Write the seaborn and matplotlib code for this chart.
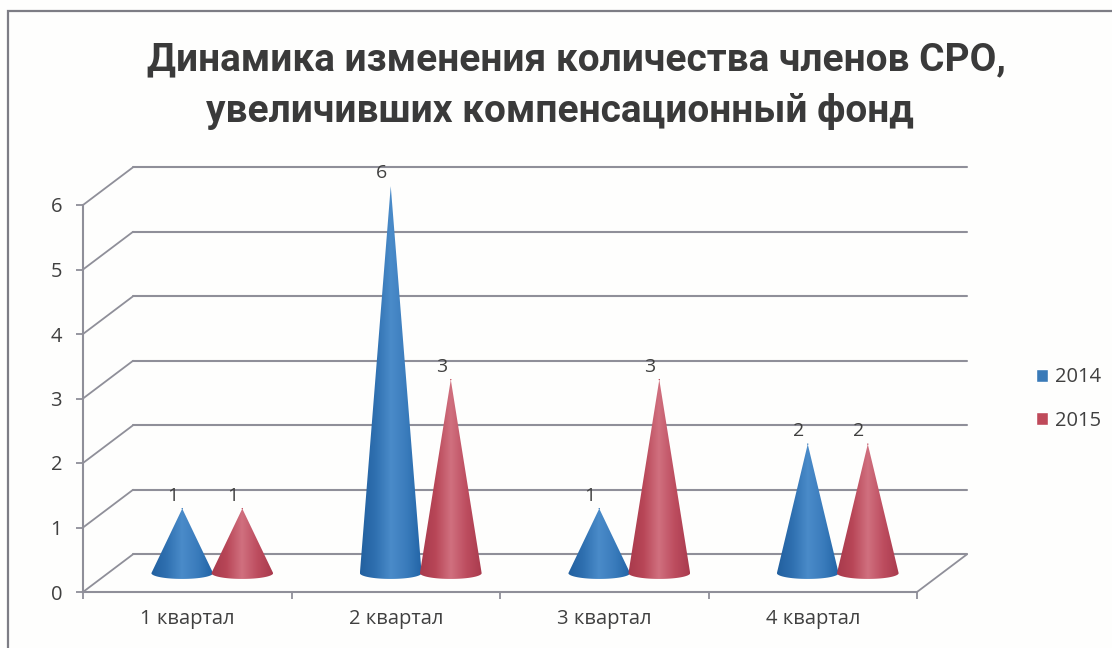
import numpy as np
import pandas as pd
import matplotlib
matplotlib.use('Agg')
import matplotlib.pyplot as plt
from matplotlib.colors import LinearSegmentedColormap
from matplotlib.patches import Patch, Polygon, Rectangle
import seaborn as sns

quarters = ['1 квартал', '2 квартал', '3 квартал', '4 квартал']
values_2014 = [1, 6, 1, 2]
values_2015 = [1, 3, 3, 2]
y_ticks = [0, 1, 2, 3, 4, 5, 6]
title_top = 'Динамика изменения количества членов СРО,'
title_bottom = 'увеличивших компенсационный фонд'

BLUE = '#3a7ab8'
RED = '#bf4a5a'
GRID = '#8f8f99'
TEXT = '#404040'
FONT = 'Open Sans'
# floor depth, in data units
DEPTH_X = 0.24
DEPTH_Y = 0.585
HALF_W = 0.148
ELL_H = 0.09
OFFSET = 0.144

sns.set_theme(style='white')
plt.rcParams['font.family'] = [FONT, 'DejaVu Sans']


def draw_cone(fig, ax, x, value, stops):
    """Draws one cone standing on the middle of the floor."""
    x0 = x + DEPTH_X / 2
    base = DEPTH_Y / 2
    t = np.linspace(np.pi, 2 * np.pi, 40)
    rim = np.column_stack([x0 + HALF_W * np.cos(t), base + ELL_H * np.sin(t)])
    outline = np.vstack([[x0, base + value], rim])
    cmap = LinearSegmentedColormap.from_list('cone', stops)
    shade = np.linspace(0, 1, 256).reshape(1, -1)
    im = ax.imshow(shade, cmap=cmap, aspect='auto', zorder=3,
                   extent=[x0 - HALF_W, x0 + HALF_W, base - ELL_H, base + value])
    im.set_clip_box(fig.bbox)
    im.set_clip_path(Polygon(outline, closed=True, transform=ax.transData))


def main():
    fig = plt.figure(figsize=(11.12, 6.48), dpi=100, facecolor='#fefefd')
    fig.add_artist(Rectangle((8 / 1112, -0.1), 1.2, 0.1 + (648 - 11) / 648,
                             transform=fig.transFigure, fill=False,
                             edgecolor='#7d7d85', linewidth=1.6))
    ax = fig.add_axes([83 / 1112, 56 / 648, 834 / 1112, 387 / 648])
    ax.patch.set_alpha(0)

    data = pd.DataFrame({
        'x': np.concatenate([np.arange(4) + 0.5 - OFFSET, np.arange(4) + 0.5 + OFFSET]) + DEPTH_X / 2,
        'y': np.array(values_2014 + values_2015) + DEPTH_Y / 2,
        'label': values_2014 + values_2015,
        'year': ['2014'] * 4 + ['2015'] * 4,
    })
    sns.scatterplot(ax=ax, data=data, x='x', y='y', hue='year',
                    palette=[BLUE, RED], s=1, linewidth=0, legend=False, zorder=1)

    # back wall gridlines and the slanted floor/wall joins
    for v in y_ticks:
        ax.plot([DEPTH_X, 4 + DEPTH_X], [v + DEPTH_Y, v + DEPTH_Y], color=GRID,
                lw=1.5, clip_on=False, zorder=1)
        ax.plot([0, DEPTH_X], [v, v + DEPTH_Y], color=GRID, lw=1.3, clip_on=False, zorder=1)
    ax.plot([4, 4 + DEPTH_X], [0, DEPTH_Y], color=GRID, lw=1.3, clip_on=False, zorder=1)

    blue_stops = ['#22609f', '#2f70b0', '#4a8bc9', '#3a7cbc', '#2264a6']
    red_stops = ['#a83a4c', '#b84657', '#d0707f', '#bd4d5f', '#a93a4d']
    for i in range(4):
        draw_cone(fig, ax, i + 0.5 - OFFSET, values_2014[i], blue_stops)
        draw_cone(fig, ax, i + 0.5 + OFFSET, values_2015[i], red_stops)

    for row in data.itertuples():
        ax.text(row.x - 0.045, row.y + 0.2, str(row.label), ha='center', va='center',
                fontsize=14, color=TEXT, zorder=4, clip_on=False)

    ax.set_xlim(0, 4)
    ax.set_ylim(0, 6)
    ax.set_xticks(np.arange(5))
    ax.set_xticklabels([])
    ax.set_xticks(np.arange(4) + 0.5, labels=quarters, minor=True)
    ax.set_yticks(y_ticks)
    ax.set_xlabel('')
    ax.set_ylabel('')
    ax.tick_params(axis='x', which='major', length=5, width=1.3, color=GRID, bottom=True)
    ax.tick_params(axis='x', which='minor', length=0, pad=12, labelsize=14.5, labelcolor=TEXT)
    ax.tick_params(axis='y', length=5, width=1.3, color=GRID, left=True, pad=10,
                   labelsize=14.5, labelcolor=TEXT)
    sns.despine(ax=ax, top=True, right=True)
    for side in ['left', 'bottom']:
        ax.spines[side].set_color(GRID)
        ax.spines[side].set_linewidth(1.5)

    fig.text(576 / 1112, 1 - 60 / 648, title_top, ha='center', va='center', fontsize=28,
             fontweight='bold', family='Roboto', color='#3a3a3a')
    fig.text(560 / 1112, 1 - 111 / 648, title_bottom, ha='center', va='center', fontsize=28,
             fontweight='bold', family='Roboto', color='#3a3a3a')

    handles = [Patch(facecolor=BLUE, label='2014'), Patch(facecolor=RED, label='2015')]
    fig.legend(handles=handles, loc='center left', bbox_to_anchor=(1036 / 1112, 1 - 399 / 648),
               frameon=False, fontsize=14.5, labelcolor=TEXT, handlelength=0.62, handleheight=0.62,
               handletextpad=0.3, labelspacing=1.15, borderpad=0, borderaxespad=0)

    fig.savefig('out.png', dpi=100, facecolor=fig.get_facecolor())


if __name__ == '__main__':
    main()
